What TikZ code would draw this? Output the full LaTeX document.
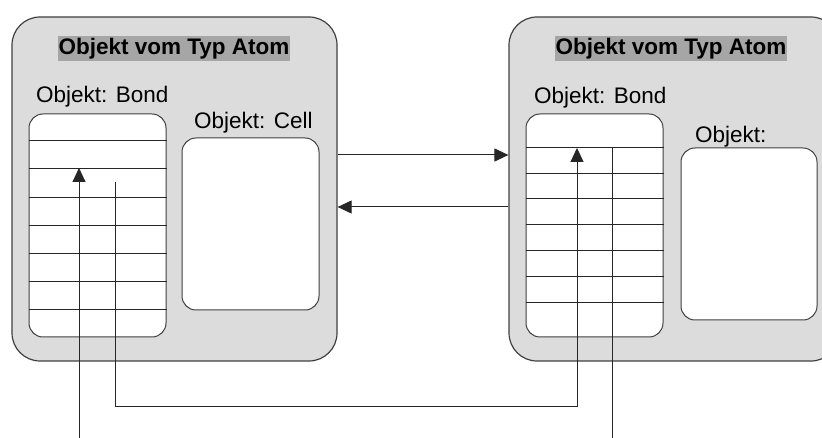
\documentclass[tikz,border=0pt]{standalone}
\usepackage{fontspec}
\setmainfont{Liberation Sans}
\usetikzlibrary{arrows.meta}

\definecolor{atomfill}{HTML}{DCDCDC}
\definecolor{titlefill}{HTML}{A6A6A6}
\definecolor{frame}{HTML}{404040}

\tikzset{
  atombox/.style={draw=frame, line width=1.2pt, fill=atomfill, rounded corners=28pt,
                  minimum width=#1, minimum height=344pt, inner sep=0pt},
  objbox/.style={draw=frame, line width=1pt, fill=white, rounded corners=14pt,
                 inner sep=0pt},
  titletext/.style={fill=titlefill, font=\fontsize{22.5}{26}\selectfont\bfseries,
                    inner xsep=1pt, inner ysep=0pt, minimum height=25pt},
  labeltext/.style={font=\fontsize{22.5}{26}\selectfont, inner sep=0pt, anchor=west},
  gridline/.style={line width=1pt, draw=black!85},
  link/.style={line width=1pt, draw=black!85},
  arrowlink/.style={link, -{Triangle[length=14pt,width=13pt]}}
}

\begin{document}
\begin{tikzpicture}[x=1pt,y=-1pt]
\useasboundingbox (0,0) rectangle (822,438);
\clip (0,0) rectangle (822,438);

% the two atom objects
\node[atombox=325pt] (atomL) at (174.5,189) {};
\node[atombox=330pt] (atomR) at (674,189) {};

\node[titletext] (titleL) at (174,48.5) {Objekt vom Typ Atom};
\node[titletext] (titleR) at (671,48.5) {Objekt vom Typ Atom};

% left atom: bond table and cell
\node[labeltext] (bondlabL) at (36,97) {Objekt: Bond};
\node[objbox, minimum width=137pt, minimum height=223pt] (bondL) at (97.5,225.5) {};
\foreach \y in {141,169,198,226,254,282,310}
  \draw[gridline] (bondL.west |- 0,\y) -- (bondL.east |- 0,\y);

\node[labeltext] (celllabL) at (194,123) {Objekt: Cell};
\node[objbox, minimum width=137pt, minimum height=172pt] (cellL) at (250.5,224) {};

% right atom: bond table and cell
\node[labeltext] (bondlabR) at (534,98) {Objekt: Bond};
\node[objbox, minimum width=137pt, minimum height=223pt] (bondR) at (594.5,225.5) {};
\foreach \y in {148,174,199,225,251,277,303}
  \draw[gridline] (bondR.west |- 0,\y) -- (bondR.east |- 0,\y);

\node[labeltext] (celllabR) at (695,137) {Objekt:};
\node[objbox, minimum width=136pt, minimum height=172pt] (cellR) at (749,234) {};

% references between the atoms
\draw[arrowlink] (atomL.east |- 0,155) -- (atomR.west |- 0,155);
\draw[arrowlink] (atomR.west |- 0,207) -- (atomL.east |- 0,207);

% pointers into the bond tables
\coordinate (inL) at (79,438);
\coordinate (tipL) at (79,168);
\draw[arrowlink] (inL) -- (tipL);

\coordinate (outL) at (115,182);
\coordinate (tipR) at (577,148);
\draw[arrowlink] (outL) -- (115,406) -| (tipR);

\coordinate (colR) at (612,148);
\coordinate (outR) at (612,438);
\draw[link] (colR) -- (outR);
\end{tikzpicture}
\end{document}
